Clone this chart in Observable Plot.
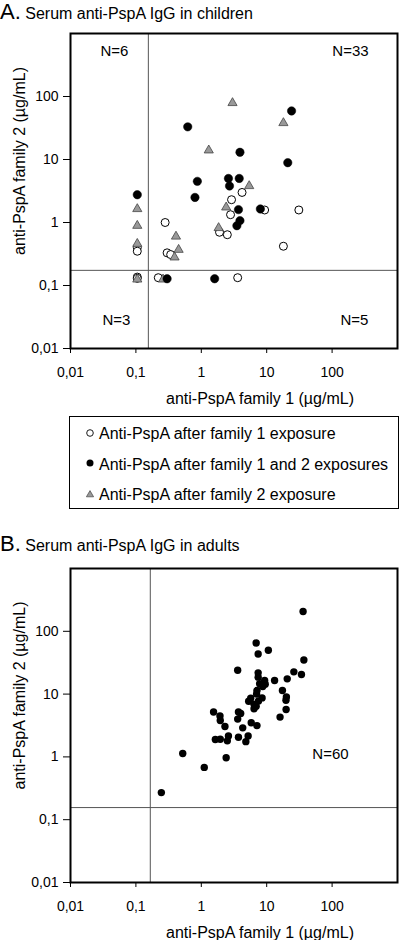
<!DOCTYPE html>
<html>
<head>
<meta charset="utf-8">
<script src="https://cdn.jsdelivr.net/npm/d3@7"></script>
<script src="https://cdn.jsdelivr.net/npm/@observablehq/plot@0.6"></script>
<style>
  body { margin: 0; background: #fff; font-family: "Liberation Sans", Arial, sans-serif; color: #000; }
  #wrap { position: relative; width: 400px; height: 940px; overflow: hidden; }
  .title { position: absolute; left: 0; white-space: nowrap; font-size: 22px; line-height: 22px; }
  .title .small { font-size: 16px; }
  .panel { position: absolute; left: 0; }
  .panel svg { display: block; }
  #legend { position: absolute; left: 69px; top: 416px; width: 330px; height: 93px; border: 1px solid #000; box-sizing: border-box; }
  .lrow { position: absolute; left: 29px; font-size: 16px; line-height: 16px; white-space: nowrap; }
  .lmark { position: absolute; left: 14px; width: 12px; height: 12px; }
</style>
</head>
<body>
<div id="wrap">
  <div class="title" id="titleA" style="top:1px">A.<span class="small"> Serum anti-PspA IgG in children</span></div>
  <div class="panel" id="panelA" style="top:28px"></div>
  <div id="legend"></div>
  <div class="title" id="titleB" style="top:533px">B.<span class="small"> Serum anti-PspA IgG in adults</span></div>
  <div class="panel" id="panelB" style="top:560px"></div>
</div>
<script>
// ---- tick values / labels ----
const tickValues = [0.01, 0.1, 1, 10, 100];
const tickLabels = ["0,01", "0,1", "1", "10", "100"];
const xTitle = "anti-PspA family 1 (µg/mL)";
const yTitle = "anti-PspA family 2 (µg/mL)";

// ---- Panel A: children ----
const seriesNames = [
  "Anti-PspA after family 1 exposure",
  "Anti-PspA after family 1 and 2 exposures",
  "Anti-PspA after family 2 exposure"
];
const fam1X = [0.105, 0.105, 0.105, 0.105, 0.28, 0.30, 0.34, 2.9, 4.2, 2.8, 1.9, 2.5, 9.3, 31, 18, 0.22, 3.6];
const fam1Y = [0.40, 0.35, 0.136, 0.13, 1.0, 0.33, 0.31, 2.3, 3.0, 1.33, 0.70, 0.64, 1.58, 1.58, 0.42, 0.133, 0.133];
const fam12X = [0.105, 0.62, 3.9, 0.87, 2.6, 3.8, 2.7, 0.80, 3.7, 3.9, 3.5, 24, 21, 8.0, 0.30, 1.60];
const fam12Y = [2.76, 33, 13, 4.5, 5.0, 5.0, 3.8, 2.5, 1.6, 1.07, 0.89, 59, 8.9, 1.64, 0.128, 0.128];
const fam2X = [0.105, 0.105, 0.105, 0.105, 0.41, 0.45, 0.39, 3.0, 1.3, 2.4, 1.84, 18, 5.4, 0.26];
const fam2Y = [1.64, 0.89, 0.46, 0.125, 0.60, 0.37, 0.28, 79, 14, 1.74, 0.82, 38, 3.8, 0.125];
const cutoffA = { x: 0.155, y: 0.174 };
const quadLabelsA = ["N=6", "N=33", "N=3", "N=5"];

// ---- Panel B: adults ----
const adultX = [36, 6.9, 10.6, 7.4, 37, 3.6, 26, 34, 7.4, 13.2, 20.6, 9.3, 7.8, 8.7, 7.1, 17.4, 7.0, 20, 19.7, 5.3,
  7.5, 6.4, 6.4, 19.8, 16, 1.54, 1.93, 3.7, 4.0, 3.6, 5.8, 7.1, 1.95, 2.3, 4.3, 1.64, 1.95, 2.6, 2.5, 3.7,
  5.2, 4.8, 2.4, 0.52, 1.11, 0.245, 5.7, 8.5, 7.4, 9.5, 6.9];
const adultY = [207, 65, 50, 43.5, 35, 24, 22.6, 20.5, 21.8, 16.5, 17.5, 16.5, 14.6, 13.2, 11.4, 11.4, 10, 9.0, 8.0, 7.7,
  7.8, 6.9, 5.85, 5.7, 4.3, 5.2, 4.5, 5.2, 4.9, 4.0, 3.5, 3.15, 3.8, 3.05, 2.9, 1.89, 1.91, 2.16, 1.8, 2.06,
  2.16, 1.75, 0.97, 1.13, 0.68, 0.27, 8.6, 8.7, 18.6, 14.4, 6.4];
const cutoffB = { x: 0.166, y: 0.156 };
const quadLabelB = "N=60";

// ---- build helpers ----
const pts = (xs, ys) => xs.map((x, i) => ({ x, y: ys[i] }));
const labelOf = new Map(tickValues.map((v, i) => [v, tickLabels[i]]));
const fmt = d => labelOf.get(d) ?? "";
const FONT = "Liberation Sans, Arial, sans-serif";
const T = { fontSize: 15, lineAnchor: "middle", textAnchor: "middle" };

function basePlot(opts) {
  return Plot.plot({
    width: 400,
    height: opts.height,
    marginLeft: 70,
    marginRight: 3,
    marginTop: opts.marginTop,
    marginBottom: opts.marginBottom,
    x: { type: "log", domain: [0.01, 1000] },
    y: { type: "log", domain: [0.01, 1000] },
    style: { fontFamily: FONT, fontSize: "14px", background: "transparent", color: "#000", overflow: "visible" },
    marks: [
      Plot.ruleX([opts.cut.x], { stroke: "#555", strokeWidth: 1 }),
      Plot.ruleY([opts.cut.y], { stroke: "#555", strokeWidth: 1 }),
      Plot.axisX(tickValues, { tickSize: 5, tickPadding: 14, tickFormat: fmt, label: null, fontSize: 14, stroke: "#000" }),
      Plot.axisY(tickValues, { tickSize: 7, tickPadding: 5, tickFormat: fmt, label: null, fontSize: 14, stroke: "#000" }),
      Plot.text([xTitle], { frameAnchor: "bottom", dx: 26, dy: 50, fontSize: 16, lineAnchor: "middle", textAnchor: "middle" }),
      Plot.text([yTitle], { frameAnchor: "left", rotate: -90, dx: -51, dy: -30, fontSize: 16, lineAnchor: "middle", textAnchor: "middle" }),
      ...opts.marks,
      Plot.frame({ stroke: "#000", strokeWidth: 2 })
    ]
  });
}

// Panel A
const plotA = basePlot({
  height: 385, marginTop: 5, marginBottom: 65, cut: cutoffA,
  marks: [
    Plot.text([quadLabelsA[0]], { frameAnchor: "top-left", dx: 44, dy: 18, ...T }),
    Plot.text([quadLabelsA[1]], { frameAnchor: "top-right", dx: -47, dy: 18, ...T }),
    Plot.text([quadLabelsA[2]], { frameAnchor: "bottom-left", dx: 46, dy: -28, ...T }),
    Plot.text([quadLabelsA[3]], { frameAnchor: "bottom-right", dx: -43, dy: -28, ...T }),
    Plot.dot(pts(fam1X, fam1Y), { x: "x", y: "y", r: 4, fill: "white", stroke: "#000", strokeWidth: 1 }),
    Plot.dot(pts(fam2X, fam2Y), { x: "x", y: "y", symbol: "triangle", r: 3.4, fill: "#999", stroke: "#444", strokeWidth: 0.8 }),
    Plot.dot(pts(fam12X, fam12Y), { x: "x", y: "y", r: 4.2, fill: "#000", stroke: "#000", strokeWidth: 0.5 })
  ]
});
document.getElementById("panelA").appendChild(plotA);

// Legend (HTML)
const legend = document.getElementById("legend");
const rowBaselines = [23, 53.3, 84];
const markerSvgs = [
  '<svg class="lmark" viewBox="0 0 12 12"><circle cx="6" cy="6" r="3.3" fill="#fff" stroke="#000" stroke-width="0.9"/></svg>',
  '<svg class="lmark" viewBox="0 0 12 12"><circle cx="6" cy="6" r="3.5" fill="#000"/></svg>',
  '<svg class="lmark" viewBox="0 0 12 12"><polygon points="6,2.6 9.6,8.8 2.4,8.8" fill="#999" stroke="#444" stroke-width="0.7"/></svg>'
];
seriesNames.forEach((name, i) => {
  const base = rowBaselines[i];
  const row = document.createElement("div");
  row.className = "lrow";
  row.style.top = (base - 13.6) + "px";
  row.textContent = name;
  legend.appendChild(row);
  const m = document.createElement("div");
  m.innerHTML = markerSvgs[i];
  const svg = m.firstChild;
  svg.style.top = (base - 6.5 - 6 - 1) + "px";
  legend.appendChild(svg);
});

// Panel B
const plotB = basePlot({
  height: 380, marginTop: 8, marginBottom: 58, cut: cutoffB,
  marks: [
    Plot.text([quadLabelB], { frameAnchor: "right", dx: -67, dy: 29, ...T }),
    Plot.dot(pts(adultX, adultY), { x: "x", y: "y", r: 3.7, fill: "#000" })
  ]
});
document.getElementById("panelB").appendChild(plotB);
</script>
</body>
</html>
